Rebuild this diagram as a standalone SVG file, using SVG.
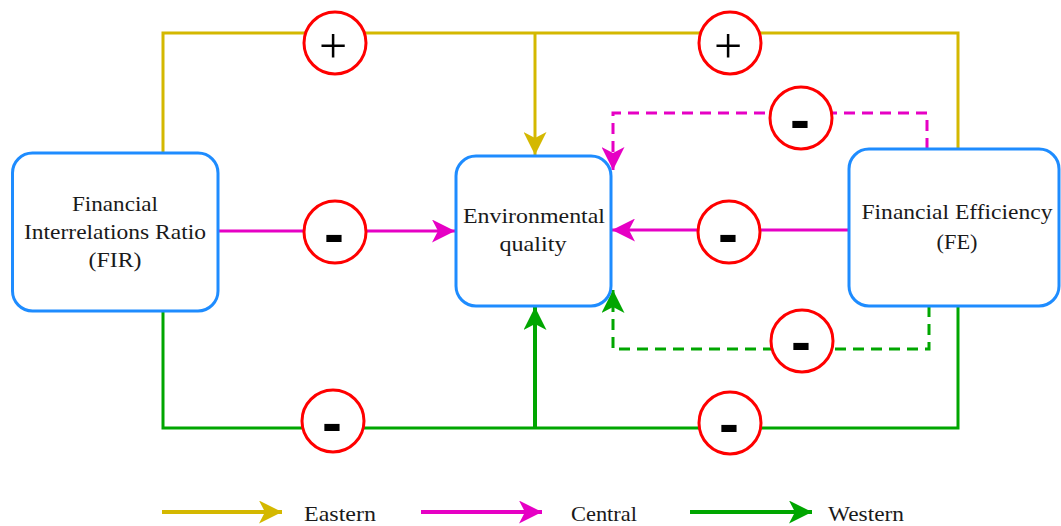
<svg xmlns="http://www.w3.org/2000/svg" width="1061" height="526" viewBox="0 0 1061 526">
<defs>
<style>
.box{fill:#fff;stroke:#1E8CFF;stroke-width:3}
.lbl{font-family:"Liberation Serif","Times New Roman",serif;font-size:21.5px;fill:#1a1a1a;text-anchor:middle}
.leg{font-family:"Liberation Serif","Times New Roman",serif;font-size:21.5px;fill:#1a1a1a}
.sign{fill:#fff;stroke:#FF0000;stroke-width:3}
.plus{font-family:"Liberation Serif","Times New Roman",serif;font-size:50px;fill:#000;text-anchor:middle}
.minus{font-family:"Liberation Sans",Arial,sans-serif;font-weight:bold;font-size:60px;fill:#000;text-anchor:middle}
.ye{fill:none;stroke:#D4B800;stroke-width:3}
.ma{fill:none;stroke:#E600C4;stroke-width:3}
.gr{fill:none;stroke:#00A600;stroke-width:3}
.dash{stroke-dasharray:11 7}
</style>
<marker id="aY" markerUnits="userSpaceOnUse" markerWidth="23" markerHeight="23" refX="23" refY="11.5" orient="auto"><path d="M0,0 L23,11.5 L0,23 L6,11.5 Z" fill="#D4B800"/></marker>
<marker id="aM" markerUnits="userSpaceOnUse" markerWidth="23" markerHeight="23" refX="23" refY="11.5" orient="auto"><path d="M0,0 L23,11.5 L0,23 L6,11.5 Z" fill="#E600C4"/></marker>
<marker id="aG" markerUnits="userSpaceOnUse" markerWidth="23" markerHeight="23" refX="23" refY="11.5" orient="auto"><path d="M0,0 L23,11.5 L0,23 L6,11.5 Z" fill="#00A600"/></marker>
</defs>
<rect width="1061" height="526" fill="#fff"/>
<g id="connectors">
<path class="ye" d="M163,153 V33 H958 V149"/>
<path class="ye" d="M535,33 V155" marker-end="url(#aY)"/>
<path class="ma" d="M218,231 H455" marker-end="url(#aM)"/>
<path class="ma" d="M849,230 H612" marker-end="url(#aM)"/>
<path class="ma dash" d="M927,149 V113 H613 V170" marker-end="url(#aM)"/>
<path class="gr" d="M163,311 V428 H958 V306"/>
<path class="gr" style="stroke-width:4" d="M535,428 V307" marker-end="url(#aG)"/>
<path class="gr dash" d="M929,306 V349 H613 V290" marker-end="url(#aG)"/>
</g>
<g id="sign-1"><circle class="sign" cx="335" cy="43" r="31"/><text class="plus" x="333" y="63">+</text></g>
<g id="sign-2"><circle class="sign" cx="730" cy="43" r="31"/><text class="plus" x="728" y="63">+</text></g>
<g id="sign-3"><circle class="sign" cx="335" cy="232" r="31"/><text class="minus" x="334" y="254">-</text></g>
<g id="sign-4"><circle class="sign" cx="729" cy="232" r="31"/><text class="minus" x="728" y="254">-</text></g>
<g id="sign-5"><circle class="sign" cx="801" cy="118" r="31"/><text class="minus" x="800" y="140">-</text></g>
<g id="sign-6"><circle class="sign" cx="333" cy="421" r="31"/><text class="minus" x="332" y="443">-</text></g>
<g id="sign-7"><circle class="sign" cx="730" cy="423" r="31"/><text class="minus" x="729" y="444">-</text></g>
<g id="sign-8"><circle class="sign" cx="802" cy="341" r="31"/><text class="minus" x="801" y="362">-</text></g>
<g id="fir">
<rect class="box" x="12.5" y="153" width="205.5" height="158" rx="20"/>
<text class="lbl" x="115" y="211" textLength="86" lengthAdjust="spacingAndGlyphs">Financial</text>
<text class="lbl" x="115" y="239" textLength="182" lengthAdjust="spacingAndGlyphs">Interrelations Ratio</text>
<text class="lbl" x="115" y="267" textLength="53" lengthAdjust="spacingAndGlyphs">(FIR)</text>
</g>
<g id="env">
<rect class="box" x="456" y="156" width="155" height="150" rx="20"/>
<text class="lbl" x="534" y="223" textLength="142" lengthAdjust="spacingAndGlyphs">Environmental</text>
<text class="lbl" x="533" y="251" textLength="67" lengthAdjust="spacingAndGlyphs">quality</text>
</g>
<g id="fe">
<rect class="box" x="849" y="149" width="210" height="157" rx="20"/>
<text class="lbl" x="957" y="219" textLength="191" lengthAdjust="spacingAndGlyphs">Financial Efficiency</text>
<text class="lbl" x="957" y="249" textLength="41" lengthAdjust="spacingAndGlyphs">(FE)</text>
</g>
<g id="legend">
<path class="ye" style="stroke-width:4" d="M162,512 H282" marker-end="url(#aY)"/>
<text class="leg" x="304" y="521" textLength="72" lengthAdjust="spacingAndGlyphs">Eastern</text>
<path class="ma" style="stroke-width:4" d="M421,512 H542" marker-end="url(#aM)"/>
<text class="leg" x="571" y="521" textLength="66" lengthAdjust="spacingAndGlyphs">Central</text>
<path class="gr" style="stroke-width:4" d="M690,512 H812" marker-end="url(#aG)"/>
<text class="leg" x="828" y="521" textLength="76" lengthAdjust="spacingAndGlyphs">Western</text>
</g>
</svg>
